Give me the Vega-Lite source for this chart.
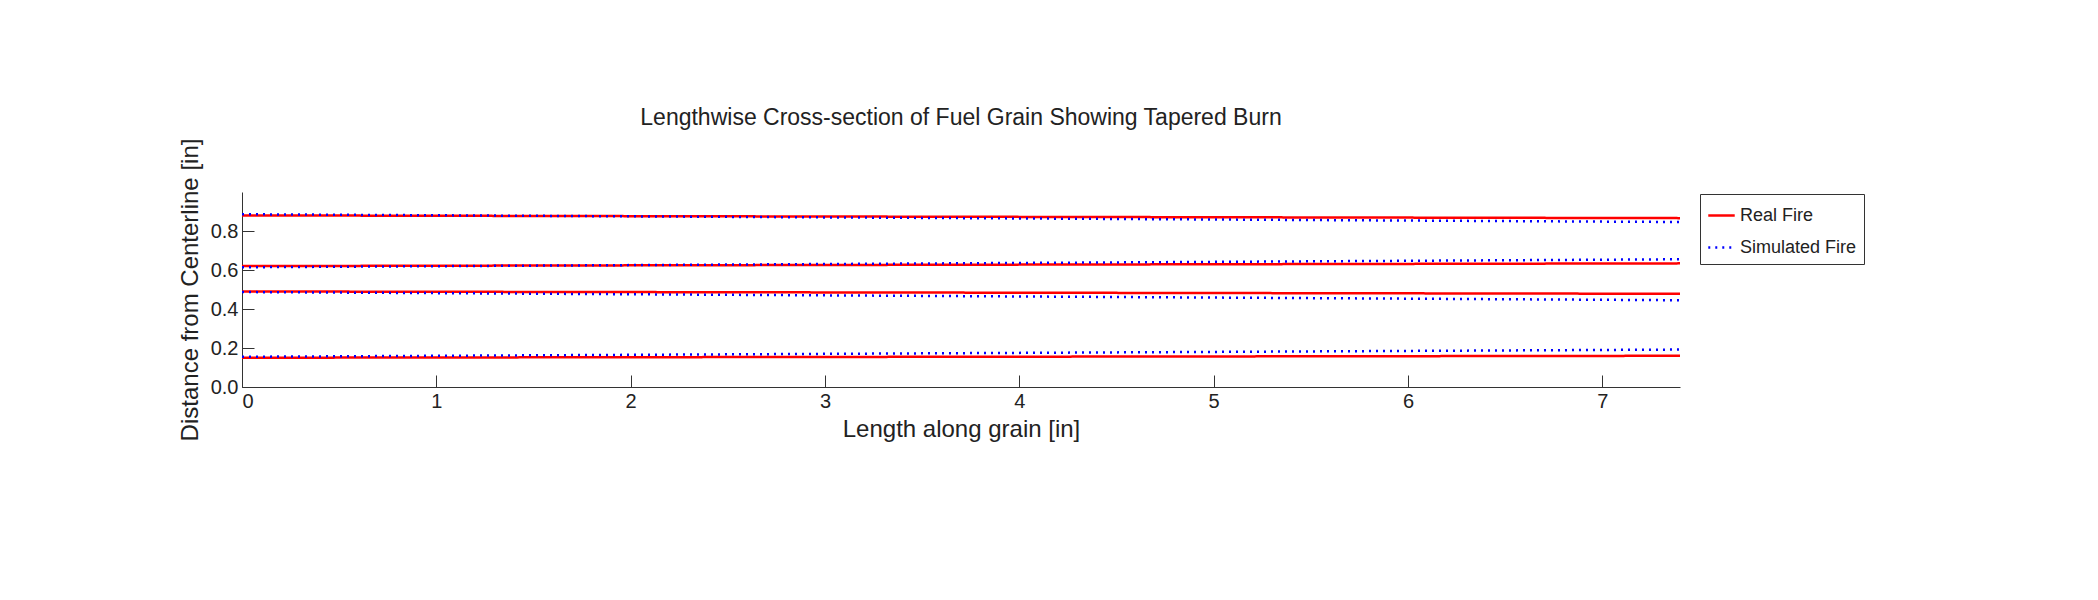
{
  "$schema": "https://vega.github.io/schema/vega-lite/v6.json",
  "autosize": "none",
  "padding": {"left": 242, "top": 192, "right": 418, "bottom": 213},
  "width": 1438,
  "height": 195,
  "background": "white",
  "title": {"text": "Lengthwise Cross-section of Fuel Grain Showing Tapered Burn", "font": "Liberation Sans", "fontSize": 23, "fontWeight": "normal", "color": "#222", "offset": 8},
  "data": {"values": [
    {"x": 0, "y": 0.880, "line": "R1", "kind": "Real Fire"},
    {"x": 7.4, "y": 0.866, "line": "R1", "kind": "Real Fire"},
    {"x": 0, "y": 0.620, "line": "R2", "kind": "Real Fire"},
    {"x": 7.4, "y": 0.634, "line": "R2", "kind": "Real Fire"},
    {"x": 0, "y": 0.490, "line": "R3", "kind": "Real Fire"},
    {"x": 7.4, "y": 0.478, "line": "R3", "kind": "Real Fire"},
    {"x": 0, "y": 0.150, "line": "R4", "kind": "Real Fire"},
    {"x": 7.4, "y": 0.160, "line": "R4", "kind": "Real Fire"},
    {"x": 0, "y": 0.886, "line": "S1", "kind": "Simulated Fire"},
    {"x": 7.4, "y": 0.846, "line": "S1", "kind": "Simulated Fire"},
    {"x": 0, "y": 0.614, "line": "S2", "kind": "Simulated Fire"},
    {"x": 7.4, "y": 0.655, "line": "S2", "kind": "Simulated Fire"},
    {"x": 0, "y": 0.487, "line": "S3", "kind": "Simulated Fire"},
    {"x": 7.4, "y": 0.445, "line": "S3", "kind": "Simulated Fire"},
    {"x": 0, "y": 0.155, "line": "S4", "kind": "Simulated Fire"},
    {"x": 7.4, "y": 0.192, "line": "S4", "kind": "Simulated Fire"}
  ]},
  "mark": {"type": "line", "strokeWidth": 2.5},
  "encoding": {
    "x": {"field": "x", "type": "quantitative", "scale": {"domain": [0, 7.4], "nice": false}, "title": "Length along grain [in]",
      "axis": {"values": [0,1,2,3,4,5,6,7], "grid": false, "tickSize": -12, "domainColor": "#333", "tickColor": "#333", "labelFont": "Liberation Sans", "labelFontSize": 20, "labelColor": "#222", "labelPadding": 16, "titleFont": "Liberation Sans", "titleFontSize": 24, "titleFontWeight": "normal", "titleColor": "#222", "titlePadding": 6}},
    "y": {"field": "y", "type": "quantitative", "scale": {"domain": [0, 1], "nice": false}, "title": "Distance from Centerline [in]",
      "axis": {"values": [0, 0.2, 0.4, 0.6, 0.8], "grid": false, "tickSize": -12, "domainColor": "#333", "tickColor": "#333", "labelFont": "Liberation Sans", "labelFontSize": 20, "labelColor": "#222", "labelPadding": 16, "titleFont": "Liberation Sans", "titleFontSize": 24, "titleFontWeight": "normal", "titleColor": "#222", "titlePadding": 8}},
    "detail": {"field": "line"},
    "color": {"field": "kind", "type": "nominal", "scale": {"domain": ["Real Fire", "Simulated Fire"], "range": ["#ff0000", "#0000ff"]},
      "legend": {"title": null, "orient": "none", "legendX": 1458, "legendY": 2, "strokeColor": "#333", "fillColor": "white", "padding": 7, "symbolType": "stroke", "symbolSize": 700, "symbolStrokeWidth": 2.5, "labelFont": "Liberation Sans", "labelFontSize": 18, "labelColor": "#222", "rowPadding": 8, "labelLimit": 300}},
    "strokeDash": {"field": "kind", "type": "nominal", "scale": {"domain": ["Real Fire", "Simulated Fire"], "range": [[1, 0], [2, 5]]}, "legend": null}
  },
  "config": {"view": {"stroke": null}}
}
